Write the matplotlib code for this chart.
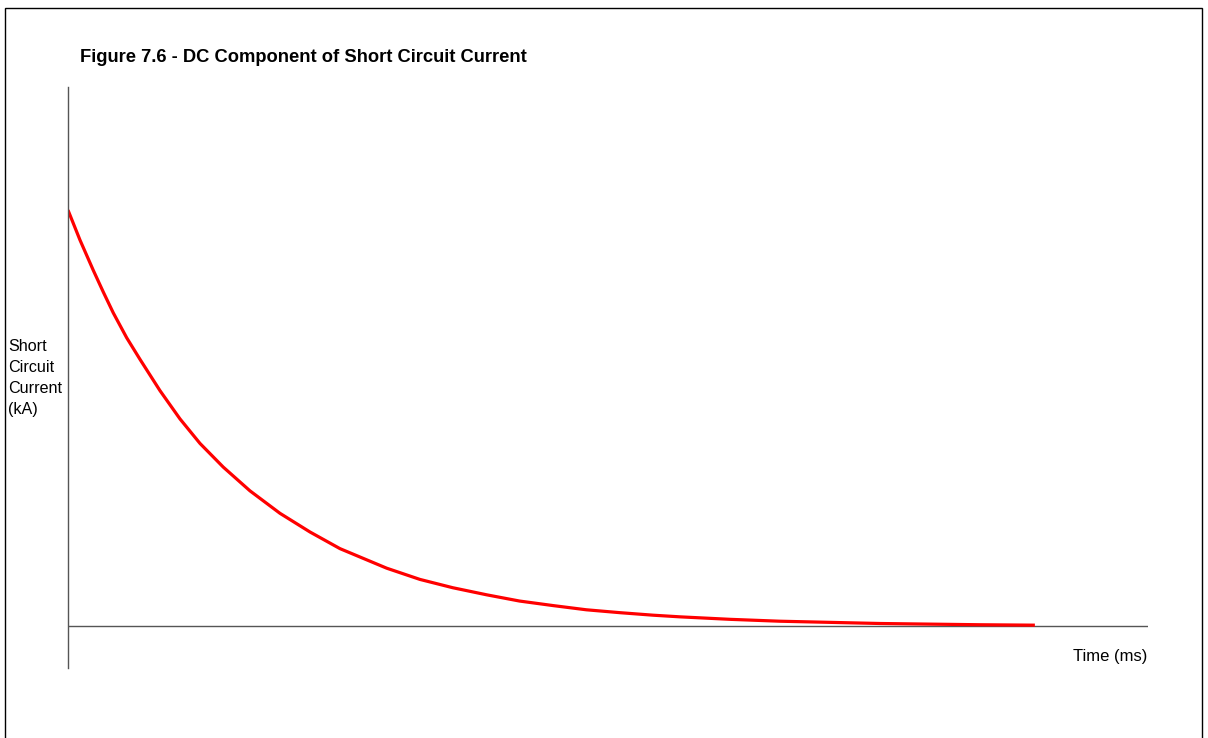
import matplotlib.pyplot as plt
from matplotlib.patches import Rectangle

# DC component decay (time in ms, current in kA, arbitrary scale)
time_ms = [0, 1.24, 2.62, 3.65, 4.68, 6.07, 7.45, 9.51, 11.58, 13.65, 16.06,
           18.82, 21.92, 25.03, 28.13, 32.96, 36.4, 39.8, 43.3, 46.7,
           50.2, 53.6, 57.1, 60.5, 63.3, 68.5, 73.6, 84.0, 94.3, 100]
current_ka = [100, 92.8, 85.5, 80.3, 75.3, 69.3, 64.1, 56.6, 49.8, 43.9, 38.2,
              32.5, 27.1, 22.6, 18.6, 13.9, 11.2, 9.2, 7.5, 6.0,
              4.9, 3.9, 3.2, 2.6, 2.2, 1.6, 1.15, 0.6, 0.3, 0.2]

title = "Figure 7.6 - DC Component of Short Circuit Current"
y_label = "Short\nCircuit\nCurrent\n(kA)"
x_label = "Time (ms)"

plt.rcParams['font.family'] = ['Liberation Sans', 'DejaVu Sans']

W, H = 1208, 738
fig = plt.figure(figsize=(W / 100, H / 100), dpi=100)

# axes box in pixels: x 68..1148, y 87..668
ax = fig.add_axes([68 / W, 1 - 668 / H, 1080 / W, 581 / H])
ax.set_xlim(0, 111.7)
ax.set_ylim(-10.1, 129.6)

for s in ['top', 'right', 'bottom']:
    ax.spines[s].set_visible(False)
ax.spines['left'].set_color('#555555')
ax.spines['left'].set_linewidth(1.0)
ax.set_xticks([])
ax.set_yticks([])
ax.axhline(0, color='#555555', lw=1.0, zorder=1)

ax.plot(time_ms, current_ka, color='red', lw=2.3, solid_capstyle='butt',
        solid_joinstyle='round', zorder=2)

# outer frame
fig.patches.append(Rectangle((5 / W, -0.01), 1197 / W, 1 - 8 / H + 0.01,
                             transform=fig.transFigure, fill=False,
                             edgecolor='black', lw=1.0))

fig.text(80 / W, 1 - 57 / H, title, fontsize=13.2, fontweight='bold',
         ha='left', va='center')
fig.text(8 / W, 1 - 378 / H, y_label, fontsize=11.6, ha='left', va='center',
         linespacing=1.5)
fig.text(1147 / W, 1 - 656 / H, x_label, fontsize=12, ha='right', va='center')

fig.savefig('out.png', dpi=100)
